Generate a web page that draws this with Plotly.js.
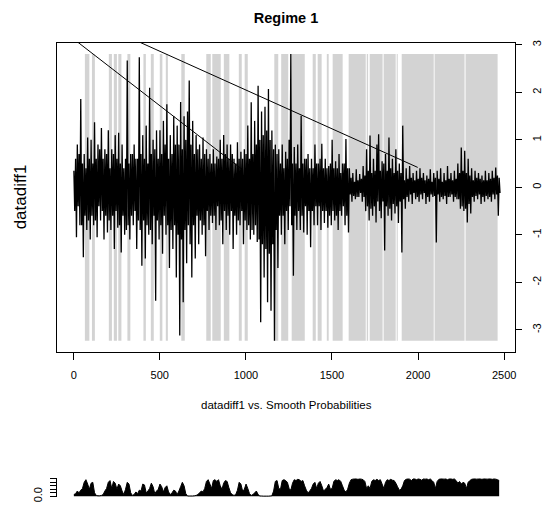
<!DOCTYPE html>
<html><head><meta charset="utf-8">
<script src="https://cdn.plot.ly/plotly-3.0.1.min.js"></script>
<style>html,body{margin:0;padding:0;background:#fff}#chart{width:547px;height:507px}</style>
</head><body><div id="chart"></div>
<script>
// ---- data ----
// datadiff1: upward swings, one every 10 observations starting at t=1
const upperStart = 1, upperStep = 10;
const datadiff1Upper = [
 0.35,0.6,0.9,0.7,1.86,0.5,0.7,0.4,1.05,0.6,
 1.0,0.5,1.37,0.6,0.9,0.8,1.25,0.6,0.8,0.7,
 1.2,0.4,0.8,0.7,1.1,0.6,1.15,0.5,0.9,0.4,
 0.6,2.67,0.5,0.7,0.7,0.9,0.6,0.6,2.74,0.7,
 1.1,0.6,1.3,0.5,2.1,0.7,1.0,0.8,1.2,0.6,
 1.2,0.7,1.4,0.9,1.75,0.6,1.1,0.7,1.5,0.9,
 1.3,0.9,1.8,0.8,1.5,1.0,1.6,2.25,0.9,1.4,
 0.7,1.1,0.8,0.9,0.6,1.05,0.7,0.8,0.6,0.7,
 0.5,0.8,0.5,0.65,0.6,1.0,0.6,1.1,0.7,0.9,
 0.6,0.9,0.7,0.6,0.5,0.95,0.6,0.75,0.6,0.8,
 0.7,1.3,0.6,1.79,0.7,1.4,0.9,2.14,1.0,1.6,
 1.1,1.7,1.2,2.07,1.0,1.2,0.8,0.9,0.7,0.8,
 0.5,0.9,0.4,0.75,0.6,1.0,2.81,0.5,0.85,0.5,
 0.9,0.4,1.51,0.5,0.6,0.6,0.7,0.4,0.6,0.4,
 0.9,0.5,0.5,0.6,0.92,0.4,0.6,0.4,0.45,0.5,
 1.0,0.4,0.55,0.4,0.7,0.3,0.5,0.5,1.02,0.4,
 0.4,0.2,0.3,0.12,0.38,0.15,0.28,0.18,0.45,0.25,
 0.8,0.35,1.09,0.3,0.6,0.35,0.9,1.12,0.35,0.55,
 0.5,0.7,0.35,1.05,0.4,0.6,0.3,0.8,0.35,0.5,
 0.3,1.3,0.15,0.4,0.18,0.45,0.2,0.3,0.15,0.35,
 0.18,0.4,0.2,0.3,0.15,0.25,0.18,0.38,0.12,0.3,
 0.2,0.35,0.18,0.4,0.12,0.3,0.15,0.45,0.18,0.3,
 0.15,0.35,0.18,0.5,0.3,0.84,0.35,0.77,0.3,0.6,
 0.25,0.4,0.15,0.35,0.2,0.3,0.18,0.25,0.15,0.35,
 0.15,0.3,0.18,0.35,0.2,0.42,0.25,0.2
];
// datadiff1: downward swings, one every 10 observations starting at t=6
const lowerStart = 6, lowerStep = 10;
const datadiff1Lower = [
 -0.5,-1.05,-0.4,-0.8,-0.8,-1.47,-0.6,-0.9,-0.7,-1.1,
 -0.6,-0.8,-0.7,-1.05,-0.4,-0.7,-0.5,-1.1,-0.6,-0.95,
 -0.7,-0.9,-0.6,-1.3,-0.5,-0.85,-0.8,-1.37,-0.6,-1.0,
 -0.9,-0.8,-1.1,-0.6,-0.8,-0.5,-1.3,-0.7,-0.9,-1.65,
 -0.7,-1.5,-0.8,-1.0,-0.9,-1.2,-0.6,-2.39,-0.7,-1.1,
 -0.8,-1.4,-0.6,-1.0,-0.8,-1.7,-0.9,-1.3,-0.8,-1.9,
 -1.0,-3.12,-1.1,-2.42,-0.9,-1.6,-0.8,-1.2,-1.9,-0.8,
 -1.5,-0.6,-1.2,-0.7,-1.0,-0.8,-1.45,-0.5,-0.9,-0.6,
 -0.75,-0.6,-0.9,-0.4,-0.8,-0.7,-1.2,-0.5,-0.9,-0.6,
 -1.0,-0.5,-1.3,-0.6,-1.0,-0.7,-0.8,-0.5,-1.2,-0.7,
 -0.9,-0.8,-1.1,-0.9,-1.0,-0.8,-1.15,-1.1,-2.84,-1.2,
 -1.9,-1.3,-2.42,-1.4,-2.6,-1.2,-3.23,-0.9,-1.7,-0.6,
 -1.0,-0.6,-1.2,-0.5,-0.9,-0.4,-0.8,-1.86,-0.6,-0.9,
 -0.5,-0.9,-0.6,-0.95,-0.4,-1.0,-0.5,-1.26,-0.5,-0.8,
 -0.4,-0.8,-0.4,-0.9,-0.5,-0.75,-0.5,-0.85,-0.6,-0.8,
 -0.5,-0.7,-0.6,-0.9,-0.5,-0.6,-0.4,-0.8,-0.6,-0.95,
 -0.15,-0.3,-0.18,-0.25,-0.2,-0.2,-0.12,-0.3,-0.2,-0.5,
 -0.4,-0.7,-0.45,-0.6,-0.4,-0.74,-0.3,-0.5,-0.65,-0.3,
 -1.33,-0.4,-0.6,-0.45,-0.7,-0.35,-0.55,-0.4,-0.75,-0.3,
 -1.37,-0.25,-0.45,-0.2,-0.3,-0.15,-0.35,-0.12,-0.25,-0.2,
 -0.3,-0.15,-0.25,-0.12,-0.35,-0.2,-0.3,-0.15,-0.2,-0.18,
 -1.16,-0.15,-0.3,-0.2,-0.25,-0.18,-0.35,-0.2,-0.2,-0.15,
 -0.3,-0.2,-0.25,-0.25,-0.45,-0.4,-0.5,-0.45,-0.74,-0.35,
 -0.55,-0.2,-0.3,-0.18,-0.25,-0.15,-0.35,-0.2,-0.3,-0.18,
 -0.25,-0.2,-0.3,-0.15,-0.25,-0.15,-0.6,-0.12
];
const probStart = 1, probStep = 10;
const smoothProb = [
 0.1,0.15,0.3,0.2,0.35,0.45,0.8,0.95,0.7,0.4,
 0.75,0.8,0.2,0.05,0.03,0.03,0.05,0.1,0.3,0.45,
 0.8,0.9,0.45,0.85,0.75,0.4,0.7,0.6,0.3,0.1,
 0.4,0.8,0.7,0.2,0.05,0.1,0.25,0.15,0.35,0.3,
 0.7,0.65,0.2,0.3,0.45,0.75,0.55,0.15,0.3,0.4,
 0.7,0.55,0.25,0.5,0.6,0.25,0.1,0.2,0.35,0.3,
 0.1,0.3,0.55,0.8,0.6,0.15,0.02,0.02,0.02,0.02,
 0.03,0.05,0.1,0.2,0.3,0.25,0.45,0.85,0.95,0.7,
 0.45,0.9,0.95,0.85,0.95,0.6,0.4,0.75,0.9,0.85,
 0.5,0.2,0.1,0.05,0.1,0.35,0.8,0.7,0.3,0.4,
 0.7,0.45,0.15,0.05,0.1,0.2,0.3,0.1,0.02,0.02,
 0.01,0.01,0.01,0.01,0.02,0.03,0.3,0.85,0.9,0.45,
 0.4,0.9,0.95,0.9,0.8,0.45,0.35,0.75,0.95,0.9,
 0.97,0.95,0.85,0.9,0.6,0.35,0.2,0.3,0.45,0.7,
 0.8,0.45,0.75,0.85,0.6,0.3,0.4,0.5,0.7,0.4,
 0.45,0.85,0.95,0.9,0.95,0.85,0.6,0.35,0.25,0.4,
 0.75,0.95,0.98,0.99,0.99,0.97,0.99,0.98,0.95,0.85,
 0.45,0.6,0.45,0.85,0.95,0.9,0.97,0.9,0.95,0.7,
 0.45,0.8,0.95,0.9,0.97,0.92,0.9,0.75,0.55,0.35,
 0.4,0.6,0.9,0.97,0.99,0.98,0.9,0.99,0.99,0.95,
 0.99,0.97,0.92,0.99,0.98,0.99,0.95,0.99,0.9,0.8,
 0.45,0.85,0.97,0.99,0.99,0.98,0.99,0.95,0.99,0.99,
 0.97,0.99,0.9,0.75,0.85,0.7,0.8,0.75,0.45,0.8,
 0.9,0.97,0.99,0.99,0.98,0.99,0.99,0.97,0.99,0.99,
 0.98,0.99,0.99,0.97,0.99,0.98,0.95,0.9
];
// periods shaded as regime 1 (start, end of each grey band)
const regimeStart = [65,106,204,233,259,312,405,448,500,535,625,770,805,872,959,993,1165,1205,1266,1388,1417,1470,1504,1597,1702,1719,1800,1876,1905,2096,2276];
const regimeEnd   = [91,123,222,251,277,329,419,465,515,547,645,796,854,904,976,1011,1188,1246,1342,1406,1440,1481,1562,1696,1710,1794,1870,1882,2091,2270,2462];
// two straight segments that run in from above the top edge
const lineAx = [0, 974],  lineAy = [3.124, 0.39];
const lineBx = [0, 1998], lineBy = [3.683, 0.42];
const xTicks = [0,500,1000,1500,2000,2500];
const yTicks = [-3,-2,-1,0,1,2,3];
const yTickText = ['-3','-2','-1','0','1','2','3'];
const probTicks = [0,0.2,0.4,0.6,0.8,1];
const probTickText = ['0.0','','','','',''];

// ---- build traces ----
const pts = [];
datadiff1Upper.forEach((v, i) => pts.push([upperStart + i * upperStep, v]));
datadiff1Lower.forEach((v, i) => pts.push([lowerStart + i * lowerStep, v]));
pts.sort((a, b) => a[0] - b[0]);
const sx = pts.map(p => p[0]), sy = pts.map(p => p[1]);
const px = smoothProb.map((_, i) => probStart + i * probStep);
const yMin = Math.min(...sy), yMax = Math.max(...sy);
const barX = regimeStart.map((s, i) => (s + regimeEnd[i]) / 2);
const barW = regimeStart.map((s, i) => regimeEnd[i] - s);

const traces = [
 {type:'bar', x:barX, y:barX.map(() => yMax - yMin), base:yMin, width:barW,
  marker:{color:'#d3d3d3', line:{width:0}}, xaxis:'x', yaxis:'y', hoverinfo:'skip'},
 {type:'scatter', mode:'lines', x:sx, y:sy, line:{color:'#000', width:1.3, simplify:false}, xaxis:'x', yaxis:'y'},
 {type:'scatter', mode:'lines', x:lineAx, y:lineAy, line:{color:'#000', width:1}, xaxis:'x', yaxis:'y'},
 {type:'scatter', mode:'lines', x:lineBx, y:lineBy, line:{color:'#000', width:1}, xaxis:'x', yaxis:'y'},
 {type:'scatter', mode:'lines', x:px, y:smoothProb, fill:'tozeroy', fillcolor:'#000',
  line:{color:'#000', width:1, simplify:false}, xaxis:'x2', yaxis:'y2'}
];

const F = '"Liberation Sans", Arial, Helvetica, sans-serif';
const layout = {
 width:547, height:507,
 margin:{l:57, r:32, t:43, b:9.5, pad:0},
 paper_bgcolor:'#fff', plot_bgcolor:'#fff',
 showlegend:false,
 font:{family:F, color:'#000', size:11},
 title:{text:'<b>Regime 1</b>', font:{family:F, size:14.5, color:'#000'},
        x:0.5, xref:'paper', xanchor:'center', y:1 - 18/507, yref:'container', yanchor:'middle'},
 xaxis:{domain:[0,1], range:[-97,2563], anchor:'y', tickmode:'array', tickvals:xTicks,
        ticks:'outside', ticklen:7, tickwidth:1, tickcolor:'#000',
        showline:true, linecolor:'#000', linewidth:1, mirror:true,
        showgrid:false, zeroline:false, tickfont:{size:11}, ticklabelstandoff:6},
 yaxis:{domain:[0.3201,1], range:[-3.46,3.04], side:'right', anchor:'x', tickmode:'array',
        tickvals:yTicks, ticktext:yTickText, tickangle:-90,
        ticks:'outside', ticklen:6, tickwidth:1, tickcolor:'#000',
        showline:true, linecolor:'#000', linewidth:1, mirror:true,
        showgrid:false, zeroline:false, tickfont:{size:11}, ticklabelstandoff:6},
 xaxis2:{domain:[0,1], range:[-97,2563], anchor:'y2', visible:false},
 yaxis2:{domain:[0,0.0416], range:[-0.04,1.04], anchor:'x2', side:'left', tickmode:'array',
        tickvals:probTicks, ticktext:probTickText, tickangle:-90,
        ticks:'outside', ticklen:6, tickwidth:1, tickcolor:'#000',
        showline:true, linecolor:'#000', linewidth:1,
        showgrid:false, zeroline:false, tickfont:{size:11}, ticklabelstandoff:4},
 annotations:[
  {text:'datadiff1', xref:'paper', yref:'paper', x:(20-57)/458, y:0.66, textangle:-90,
   xanchor:'center', yanchor:'middle', showarrow:false, font:{family:F, size:17, color:'#000'}},
  {text:'datadiff1 vs. Smooth Probabilities', xref:'paper', yref:'paper', x:0.5, y:(497.5-405.7)/454.5,
   xanchor:'center', yanchor:'middle', showarrow:false, font:{family:F, size:11.5, color:'#000'}}
 ]
};
Plotly.newPlot('chart', traces, layout, {staticPlot:true, displayModeBar:false});
</script></body></html>
